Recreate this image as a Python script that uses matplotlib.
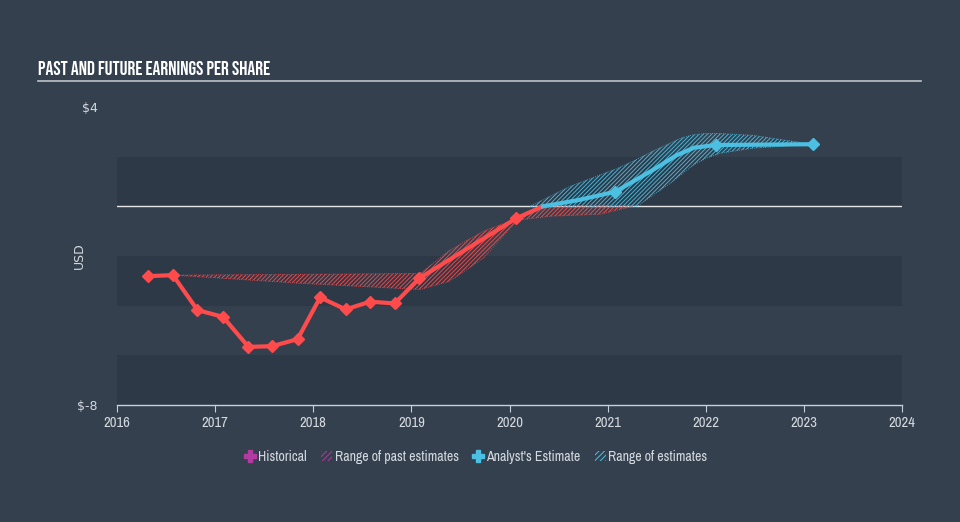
import numpy as np
import matplotlib.pyplot as plt
from matplotlib.lines import Line2D
from matplotlib.patches import Patch

# historical EPS (year, USD)
hist_x = [2016.32, 2016.57, 2016.82, 2017.08, 2017.34, 2017.58, 2017.84,
          2018.07, 2018.33, 2018.58, 2018.83, 2019.08, 2020.07, 2020.34]
hist_y = [-2.81, -2.77, -4.18, -4.45, -5.66, -5.63, -5.35,
          -3.67, -4.15, -3.84, -3.91, -2.90, -0.48, 0.0]
hist_marked = 13  # last point has no marker

# range of past estimates
past_x = [2016.57, 2017.87, 2019.09, 2019.39, 2019.73, 2020.08, 2020.41, 2020.92, 2021.26]
past_hi = [-2.77, -2.74, -2.70, -1.77, -1.01, -0.48, 0.0, 0.0, 0.0]
past_lo = [-2.77, -3.10, -3.35, -3.02, -2.10, -0.56, -0.40, -0.32, 0.0]

# analyst estimate
est_x = [2020.34, 2020.70, 2021.08, 2021.46, 2021.70, 2021.88, 2022.10, 2023.09]
est_y = [0.0, 0.25, 0.59, 1.46, 2.05, 2.36, 2.47, 2.50]
est_marked = [2, 6, 7]

# range of estimates
rng_x = [2020.21, 2020.62, 2021.10, 2021.30, 2021.46, 2021.64, 2021.74, 2021.87,
         2022.01, 2022.15, 2022.48, 2023.09]
rng_hi = [0.0, 0.81, 1.53, 1.90, 2.22, 2.55, 2.74, 2.88, 2.94, 2.93, 2.86, 2.50]
rng_lo = [0.0, 0.0, 0.0, 0.0, 0.45, 0.93, 1.25, 1.65, 1.95, 2.14, 2.34, 2.50]

years = list(range(2016, 2025))
BG = '#34404e'
BAND = '#2e3947'
RED = '#ff4b4b'
BLUE = '#4cc0e3'
TXT = '#d4d9df'
NARROW = ['Archivo Narrow', 'DejaVu Sans']
TITLE_FONT = ['Bebas Neue', 'Oswald', 'Archivo Narrow', 'DejaVu Sans']

fig = plt.figure(figsize=(9.6, 5.22), dpi=100, facecolor=BG)
ax = fig.add_axes([117/960, 1-405/522, 785/960, 298/522])
ax.set_facecolor(BG)
ax.set_xlim(2016, 2024)
ax.set_ylim(-8, 4)

# alternating bands
for lo in (-8, -4, 0):
    ax.axhspan(lo, lo + 2, color=BAND, lw=0, zorder=0)
ax.axhline(0, color='#e6e6e6', lw=1.0, zorder=1)

plt.rcParams['hatch.linewidth'] = 0.7
ax.fill_between(past_x, past_lo, past_hi, facecolor='none', edgecolor=RED,
                hatch='////////', lw=0.6, ls=':', alpha=0.9, zorder=2)
ax.fill_between(rng_x, rng_lo, rng_hi, facecolor='none', edgecolor=BLUE,
                hatch='////////', lw=0.6, ls=':', alpha=0.9, zorder=2)

ax.plot(hist_x, hist_y, color=RED, lw=3.0, zorder=4, solid_joinstyle='round')
ax.plot(hist_x[:hist_marked], hist_y[:hist_marked], ls='none', marker='D',
        ms=6, color=RED, zorder=5)
ax.plot(est_x, est_y, color=BLUE, lw=3.0, zorder=4, solid_joinstyle='round')
ax.plot([est_x[i] for i in est_marked], [est_y[i] for i in est_marked],
        ls='none', marker='D', ms=6, color=BLUE, zorder=5)

for s in ('top', 'right', 'left'):
    ax.spines[s].set_visible(False)
ax.spines['bottom'].set_color('#c8d0da')
ax.spines['bottom'].set_linewidth(1.0)
ax.set_xticks(years)
ax.set_xticklabels([str(y) for y in years], family=NARROW)
ax.tick_params(axis='x', colors='#c8d0da', labelcolor=TXT, length=5,
               labelsize=10.5, pad=3)
ax.set_yticks([-8, 4])
ax.set_yticklabels(['$-8', '$4'])
ax.tick_params(axis='y', length=0, labelcolor=TXT, labelsize=9, pad=14)
ax.set_ylabel('USD', color=TXT, fontsize=9)
ax.yaxis.set_label_coords(-0.04, 0.5)

# title and underline
fig.text(38/960, 1-68/522, 'PAST AND FUTURE EARNINGS PER SHARE', color='white',
         fontsize=14, family=TITLE_FONT, va='center')
fig.add_artist(Line2D([38/960, 921/960], [1-81/522, 1-81/522],
                      color='#c0c4c8', lw=1.2))

handles = [
    Line2D([], [], ls='none', marker='P', ms=8, color='#b23aa0'),
    Patch(facecolor='none', edgecolor='#b23aa0', hatch='//////', lw=0),
    Line2D([], [], ls='none', marker='P', ms=8, color=BLUE),
    Patch(facecolor='none', edgecolor=BLUE, hatch='//////', lw=0),
]
labels = ['Historical', 'Range of past estimates', "Analyst's Estimate", 'Range of estimates']
leg = fig.legend(handles, labels, loc='center', bbox_to_anchor=(476/960, 1-457/522),
                 ncol=4, frameon=False, prop={'family': NARROW, 'size': 10},
                 labelcolor=TXT, handlelength=0.8, handletextpad=0.2,
                 columnspacing=1.0)

fig.savefig('out.png', dpi=100, facecolor=BG)
